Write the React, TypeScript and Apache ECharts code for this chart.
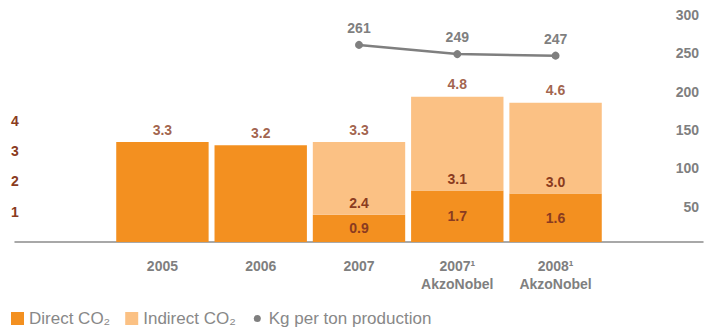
import React, { useEffect, useRef } from "react";
import * as echarts from "echarts";

const categories = ["2005", "2006", "2007", "2007¹\nAkzoNobel", "2008¹\nAkzoNobel"];
const directCO2 = [3.3, 3.2, 0.9, 1.7, 1.6];
const indirectCO2: (number | null)[] = [null, null, 2.4, 3.1, 3.0];
const totalCO2 = [3.3, 3.2, 3.3, 4.8, 4.6];
const kgPerTon: (number | null)[] = [null, null, 261, 249, 247];
const leftTicks = [1, 2, 3, 4];

const ORANGE = "#f39020";
const LIGHT = "#fbc184";
const BROWN = "#8a3b20";
const GREY = "#7f7f7f";
const FONT = "'Liberation Sans', Arial, sans-serif";

export default function App() {
  const ref = useRef<HTMLDivElement>(null);
  useEffect(() => {
    if (!ref.current) return;
    const chart = echarts.init(ref.current, undefined, { renderer: "svg" });
    const pad = <T,>(arr: T[]) => [null, ...arr, null];
    const cats = ["", ...categories, ""];
    const circleIcon = "path://M0 0M10 10M5 2.3A2.7 2.7 0 1 1 5 7.7A2.7 2.7 0 1 1 5 2.3Z";
    chart.setOption({
      animation: false,
      textStyle: { fontFamily: FONT },
      grid: [
        { left: 15, right: 9, top: 15, bottom: 88, containLabel: false },
        { left: 15, right: 9, top: 15, bottom: 85, containLabel: false },
      ],
      legend: {
        left: 11,
        top: 310,
        padding: 0,
        itemWidth: 13,
        itemHeight: 13,
        itemGap: 15,
        textStyle: { color: "#888888", fontSize: 17, fontFamily: FONT },
        data: [
          { name: "Direct CO₂", icon: "rect" },
          { name: "Indirect CO₂", icon: "rect" },
          { name: "Kg per ton production", icon: circleIcon },
        ],
      },
      xAxis: [
        {
          type: "category",
          gridIndex: 0,
          data: cats,
          axisLine: { show: true, lineStyle: { color: "#8c8c8c", width: 1.5 } },
          axisTick: { show: false },
          axisLabel: {
            color: GREY,
            fontWeight: "bold",
            fontSize: 14,
            lineHeight: 18,
            margin: 15,
            interval: 0,
          },
        },
        {
          type: "category",
          gridIndex: 1,
          data: cats,
          show: false,
        },
      ],
      yAxis: [
        {
          type: "value",
          gridIndex: 0,
          min: 0,
          max: 7.5,
          interval: 1,
          splitLine: { show: false },
          axisLine: { show: false },
          axisTick: { show: false },
          axisLabel: {
            color: BROWN,
            fontWeight: "bold",
            fontSize: 14,
            align: "left",
            margin: 4,
            formatter: (v: number) => (leftTicks.includes(v) ? String(v) : ""),
          },
        },
        {
          type: "value",
          gridIndex: 1,
          position: "right",
          min: 0,
          max: 300,
          interval: 50,
          splitLine: { show: false },
          axisLine: { show: false },
          axisTick: { show: false },
          axisLabel: {
            color: GREY,
            fontWeight: "bold",
            fontSize: 14,
            align: "right",
            margin: -4,
            formatter: (v: number) => (v === 0 ? "" : String(v)),
          },
        },
      ],
      series: [
        {
          name: "Direct CO₂",
          type: "bar",
          stack: "co2",
          barWidth: "94%",
          itemStyle: { color: ORANGE },
          label: {
            show: true,
            position: "inside",
            color: BROWN,
            fontWeight: "bold",
            fontSize: 14,
            formatter: (p: any) => p.value.toFixed(1),
          },
          data: pad(
            directCO2.map((v, i) => ({
              value: v,
              label: { show: indirectCO2[i] != null },
            }))
          ),
        },
        {
          name: "Indirect CO₂",
          type: "bar",
          stack: "co2",
          barWidth: "94%",
          itemStyle: { color: LIGHT },
          label: {
            show: true,
            position: "insideBottom",
            distance: 5,
            color: BROWN,
            fontWeight: "bold",
            fontSize: 14,
            formatter: (p: any) => (p.value == null ? "" : p.value.toFixed(1)),
          },
          data: pad(indirectCO2),
        },
        {
          name: "Total",
          type: "scatter",
          symbolSize: 1,
          itemStyle: { color: "transparent" },
          label: {
            show: true,
            position: "top",
            distance: 5,
            color: BROWN,
            fontWeight: "bold",
            fontSize: 14,
            formatter: (p: any) => p.value.toFixed(1),
          },
          data: pad(totalCO2),
          z: 5,
        },
        {
          name: "Kg per ton production",
          type: "line",
          xAxisIndex: 1,
          yAxisIndex: 1,
          symbol: "circle",
          symbolSize: 8,
          itemStyle: { color: GREY },
          lineStyle: { color: GREY, width: 2.5 },
          label: {
            show: true,
            position: "top",
            distance: 6,
            color: GREY,
            fontWeight: "bold",
            fontSize: 14,
          },
          data: pad(kgPerTon),
          z: 6,
        },
      ],
    });
    return () => chart.dispose();
  }, []);
  return (
    <div
      ref={ref}
      style={{ position: "fixed", left: 0, top: 0, width: 712, height: 330, background: "#fff" }}
    />
  );
}
